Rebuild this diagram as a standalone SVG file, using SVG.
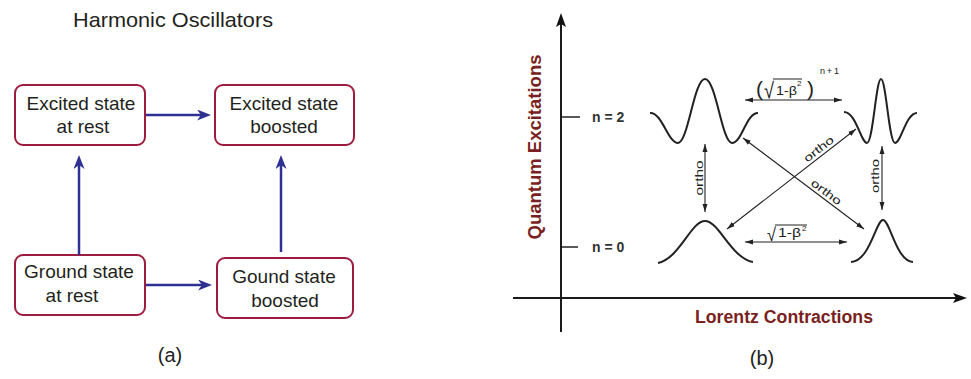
<svg xmlns="http://www.w3.org/2000/svg" width="971" height="379" viewBox="0 0 971 379">
<style>
.box{fill:#fff;stroke:#9c1c3f;stroke-width:2}
.bt{font-family:"Liberation Sans",Arial,sans-serif;font-size:19px;fill:#231f20;text-anchor:middle}
.ttl{font-family:"Liberation Sans",Arial,sans-serif;font-size:21px;fill:#231f20;text-anchor:middle}
.nv{stroke:#2e3192;stroke-width:2.5;fill:none}
.ax{stroke:#1a1a1a;stroke-width:2;fill:none}
.thin{stroke:#222;stroke-width:1.1;fill:none}
.wave{stroke:#222;stroke-width:2;fill:none;stroke-linejoin:round}
.axl{font-family:"Liberation Sans",Arial,sans-serif;font-size:18px;font-weight:bold;fill:#7a1f22;text-anchor:middle}
.nl{font-family:"Liberation Sans",Arial,sans-serif;font-size:14px;font-weight:bold;fill:#333}
.or{font-family:"Liberation Sans",Arial,sans-serif;font-size:11px;fill:#222;text-anchor:middle}
.mt{font-family:"Liberation Sans","DejaVu Sans",sans-serif;fill:#222}
.cap{font-family:"Liberation Sans",Arial,sans-serif;font-size:20px;fill:#231f20;text-anchor:middle}
</style>
<defs>
<marker id="navy" viewBox="0 0 14 11" refX="5" refY="5.5" markerWidth="14" markerHeight="11" markerUnits="userSpaceOnUse" orient="auto"><path d="M0,0 L14,5.5 L0,11 L4,5.5 z" fill="#2e3192"/></marker>
<marker id="sa" viewBox="0 0 8 6" refX="8" refY="3" markerWidth="8" markerHeight="6" markerUnits="userSpaceOnUse" orient="auto-start-reverse"><path d="M0,0.5 L8,3 L0,5.5 z" fill="#222"/></marker>
<marker id="axm" viewBox="0 0 14 10" refX="10" refY="5" markerWidth="14" markerHeight="10" markerUnits="userSpaceOnUse" orient="auto"><path d="M0,0 L14,5 L0,10 L3,5 z" fill="#111"/></marker>
</defs>

<!-- Panel (a) -->
<text class="ttl" x="173" y="27" textLength="200" lengthAdjust="spacingAndGlyphs">Harmonic Oscillators</text>

<g id="excited-rest">
<rect class="box" x="15" y="85" width="130" height="60" rx="8"/>
<text class="bt" x="81" y="110">Excited state</text>
<text class="bt" x="83" y="133">at rest</text>
</g>
<g id="excited-boosted">
<rect class="box" x="215" y="85" width="139" height="60" rx="8"/>
<text class="bt" x="284" y="110">Excited state</text>
<text class="bt" x="284" y="133">boosted</text>
</g>
<g id="ground-rest">
<rect class="box" x="15" y="255" width="130" height="60" rx="8"/>
<text class="bt" x="79" y="278">Ground state</text>
<text class="bt" x="72" y="302">at rest</text>
</g>
<g id="ground-boosted">
<rect class="box" x="217" y="258" width="136" height="60" rx="8"/>
<text class="bt" x="284" y="283">Gound state</text>
<text class="bt" x="285" y="307">boosted</text>
</g>

<g id="connectors-a">
<line class="nv" x1="146" y1="115" x2="202" y2="115" marker-end="url(#navy)"/>
<line class="nv" x1="146" y1="285" x2="203" y2="285" marker-end="url(#navy)"/>
<line class="nv" x1="79" y1="255" x2="79" y2="164" marker-end="url(#navy)"/>
<line class="nv" x1="281" y1="252" x2="281" y2="164" marker-end="url(#navy)"/>
</g>

<text class="cap" x="170" y="362">(a)</text>

<!-- Panel (b) -->
<g id="axes">
<line class="ax" x1="561" y1="332" x2="561" y2="17" marker-end="url(#axm)"/>
<line class="ax" x1="513" y1="298" x2="963" y2="298" marker-end="url(#axm)"/>
<line stroke="#222" stroke-width="1.5" x1="562" y1="117" x2="580" y2="117"/>
<line stroke="#222" stroke-width="1.5" x1="562" y1="247" x2="578" y2="247"/>
<text class="axl" transform="translate(541,147) rotate(-90)" textLength="185" lengthAdjust="spacingAndGlyphs">Quantum Excitations</text>
<text class="axl" x="784" y="323" textLength="178" lengthAdjust="spacingAndGlyphs">Lorentz Contractions</text>
<text class="nl" x="592" y="122">n = 2</text>
<text class="nl" x="592" y="252">n = 0</text>
</g>

<g id="wave-n2-rest">
<path class="wave" d="M650,113 C662,112 668,143 678,143 C688,143 694,79 705,79 C716,79 722,143 732,143 C742,143 746,113 758,113"/>
</g>
<g id="wave-n2-boosted">
<path class="wave" d="M844,112 C856,112 861,143 867,143 C873,143 876,79 881,79 C886,79 889,143 895,143 C901,143 906,113 917,113"/>
</g>
<g id="wave-n0-rest">
<path class="wave" d="M658,263 C680,258 691,221 705,221 C719,221 731,258 753,262"/>
</g>
<g id="wave-n0-boosted">
<path class="wave" d="M851,262 C870,261 876,220 883,220 C890,220 896,261 913,262"/>
</g>

<g id="connectors-b">
<line class="thin" x1="745" y1="100" x2="842" y2="100" marker-start="url(#sa)" marker-end="url(#sa)"/>
<line class="thin" x1="745" y1="242" x2="847" y2="242" marker-start="url(#sa)" marker-end="url(#sa)"/>
<line class="thin" x1="705" y1="144" x2="705" y2="212" marker-start="url(#sa)" marker-end="url(#sa)"/>
<line class="thin" x1="882" y1="146" x2="882" y2="210" marker-start="url(#sa)" marker-end="url(#sa)"/>
<line class="thin" x1="743" y1="138" x2="864" y2="229" marker-start="url(#sa)" marker-end="url(#sa)"/>
<line class="thin" x1="727" y1="229" x2="856" y2="129" marker-start="url(#sa)" marker-end="url(#sa)"/>
<text class="or" transform="translate(703,178) rotate(-90)" textLength="35" lengthAdjust="spacingAndGlyphs">ortho</text>
<text class="or" transform="translate(879,176) rotate(-90)" textLength="34" lengthAdjust="spacingAndGlyphs">ortho</text>
<text class="or" transform="translate(821,152) rotate(-37.8)" textLength="35" lengthAdjust="spacingAndGlyphs">ortho</text>
<text class="or" transform="translate(824,195) rotate(37)" textLength="35" lengthAdjust="spacingAndGlyphs">ortho</text>
<!-- (sqrt(1-b^2))^(n+1) -->
<text class="mt" x="756" y="96" font-size="21">(</text>
<text class="mt" x="764" y="98" font-size="22" textLength="10" lengthAdjust="spacingAndGlyphs">√</text>
<line stroke="#222" stroke-width="1" x1="773" y1="79" x2="802" y2="79"/>
<text class="mt" x="776" y="95" font-size="12" textLength="21" lengthAdjust="spacingAndGlyphs">1-β</text>
<text class="mt" x="797" y="86" font-size="8">2</text>
<text class="mt" x="807" y="96" font-size="21">)</text>
<text class="mt" x="820" y="74" font-size="9" textLength="19" lengthAdjust="spacing">n+1</text>
<!-- sqrt(1-b^2) -->
<text class="mt" x="767" y="241" font-size="19" textLength="9" lengthAdjust="spacingAndGlyphs">√</text>
<line stroke="#222" stroke-width="1" x1="775" y1="225" x2="807" y2="225"/>
<text class="mt" x="778" y="237" font-size="12" textLength="23" lengthAdjust="spacingAndGlyphs">1-β</text>
<text class="mt" x="802" y="231" font-size="8">2</text>
</g>

<text class="cap" x="762" y="365">(b)</text>
</svg>
